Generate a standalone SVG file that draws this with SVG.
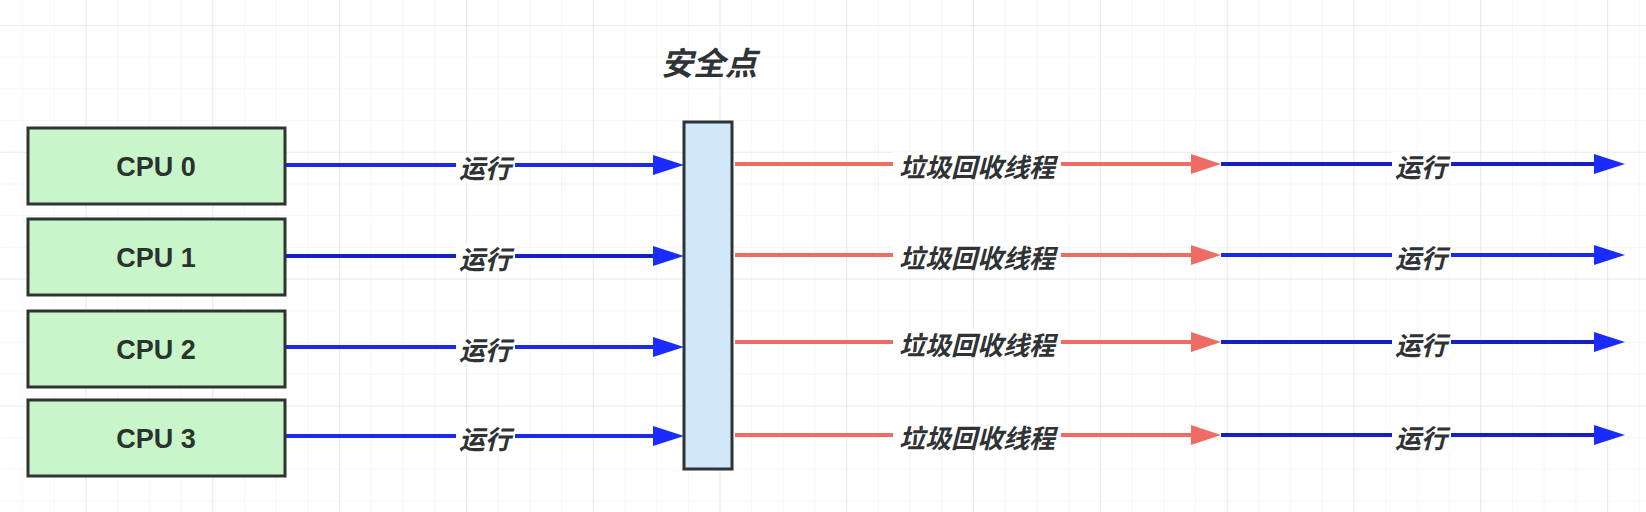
<svg xmlns="http://www.w3.org/2000/svg" width="1646" height="512" viewBox="0 0 1646 512">
  <style>
    .cpu { fill: #c9f5cb; stroke: #2e3530; stroke-width: 3; }
    .bar { fill: #d1e8fb; stroke: #2e3338; stroke-width: 3; }
    .cputxt { font-family: "Liberation Sans", "Noto Sans CJK SC", sans-serif; font-weight: bold; font-size: 27px; fill: #2a332c; text-anchor: middle; }
    .lbl { font-family: "Noto Sans CJK SC", "Liberation Sans", sans-serif; font-weight: bold; font-style: italic; font-size: 26px; fill: #2f3336; text-anchor: middle; }
    .title { font-family: "Noto Sans CJK SC", "Liberation Sans", sans-serif; font-weight: bold; font-style: italic; font-size: 32px; fill: #2f3336; text-anchor: middle; }
    .blue { stroke: #1a2ae6; stroke-width: 4; fill: none; marker-end: url(#ab); }
    .blue2 { stroke: #1620c0; stroke-width: 4; fill: none; marker-end: url(#ab); }
    .red { stroke: #ee6c65; stroke-width: 4; fill: none; marker-end: url(#ar); }
    .lblbg { fill: #ffffff; }
  </style>
  <defs>
    <pattern id="gmin" patternUnits="userSpaceOnUse" x="22.1" y="25" width="31.7" height="31.7">
      <path d="M0,0 H31.7 M0,0 V31.7" stroke="#eeeeee" stroke-width="1" fill="none"/>
    </pattern>
    <pattern id="gmaj" patternUnits="userSpaceOnUse" x="85.5" y="25" width="126.8" height="126.8">
      <path d="M0,0 H126.8 M0,0 V126.8" stroke="#e0e0e0" stroke-width="1.2" fill="none"/>
    </pattern>
    <marker id="ab" markerUnits="userSpaceOnUse" markerWidth="31" markerHeight="20" refX="0" refY="10" orient="auto">
      <path d="M0,0 L31,10 L0,20 z" fill="#1a2bff"/>
    </marker>
    <marker id="ar" markerUnits="userSpaceOnUse" markerWidth="30" markerHeight="20" refX="0" refY="10" orient="auto">
      <path d="M0,0 L30,10 L0,20 z" fill="#ee6c65"/>
    </marker>
  </defs>

  <rect x="0" y="0" width="1646" height="512" fill="#ffffff"/>
  <rect x="0" y="0" width="1646" height="512" fill="url(#gmin)"/>
  <rect x="0" y="0" width="1646" height="512" fill="url(#gmaj)"/>

  <g id="title">
    <text class="title" x="709" y="75">安全点</text>
  </g>

  <g id="connectors">
    <!-- CPU to safepoint -->
    <path class="blue" d="M285,165 H653"/>
    <path class="blue2" d="M285,256 H653"/>
    <path class="blue" d="M285,347 H653"/>
    <path class="blue" d="M285,436 H653"/>
    <!-- GC threads -->
    <path class="red" d="M735,164 H1191"/>
    <path class="red" d="M735,255 H1191"/>
    <path class="red" d="M735,342 H1191"/>
    <path class="red" d="M735,435 H1191"/>
    <!-- resume -->
    <path class="blue2" d="M1221,164 H1594"/>
    <path class="blue" d="M1221,255 H1594"/>
    <path class="blue2" d="M1221,342 H1594"/>
    <path class="blue2" d="M1221,435 H1594"/>

    <g id="labels">
      <rect class="lblbg" x="456" y="153" width="59" height="28"/>
      <text class="lbl" x="485" y="178">运行</text>
      <rect class="lblbg" x="456" y="244" width="59" height="28"/>
      <text class="lbl" x="485" y="269">运行</text>
      <rect class="lblbg" x="456" y="335" width="59" height="28"/>
      <text class="lbl" x="485" y="360">运行</text>
      <rect class="lblbg" x="456" y="424" width="59" height="28"/>
      <text class="lbl" x="485" y="449">运行</text>

      <rect class="lblbg" x="893" y="152" width="168" height="28"/>
      <text class="lbl" x="977" y="177">垃圾回收线程</text>
      <rect class="lblbg" x="893" y="243" width="168" height="28"/>
      <text class="lbl" x="977" y="268">垃圾回收线程</text>
      <rect class="lblbg" x="893" y="330" width="168" height="28"/>
      <text class="lbl" x="977" y="355">垃圾回收线程</text>
      <rect class="lblbg" x="893" y="423" width="168" height="28"/>
      <text class="lbl" x="977" y="448">垃圾回收线程</text>

      <rect class="lblbg" x="1392" y="152" width="59" height="28"/>
      <text class="lbl" x="1421" y="177">运行</text>
      <rect class="lblbg" x="1392" y="243" width="59" height="28"/>
      <text class="lbl" x="1421" y="268">运行</text>
      <rect class="lblbg" x="1392" y="330" width="59" height="28"/>
      <text class="lbl" x="1421" y="355">运行</text>
      <rect class="lblbg" x="1392" y="423" width="59" height="28"/>
      <text class="lbl" x="1421" y="448">运行</text>
    </g>
  </g>

  <g id="cpu0">
    <rect class="cpu" x="28" y="128" width="257" height="76"/>
    <text class="cputxt" x="156" y="176">CPU 0</text>
  </g>
  <g id="cpu1">
    <rect class="cpu" x="28" y="219" width="257" height="76"/>
    <text class="cputxt" x="156" y="267">CPU 1</text>
  </g>
  <g id="cpu2">
    <rect class="cpu" x="28" y="311" width="257" height="76"/>
    <text class="cputxt" x="156" y="359">CPU 2</text>
  </g>
  <g id="cpu3">
    <rect class="cpu" x="28" y="400" width="257" height="76"/>
    <text class="cputxt" x="156" y="448">CPU 3</text>
  </g>

  <g id="safepoint">
    <rect class="bar" x="684" y="122" width="48" height="347"/>
  </g>
</svg>
